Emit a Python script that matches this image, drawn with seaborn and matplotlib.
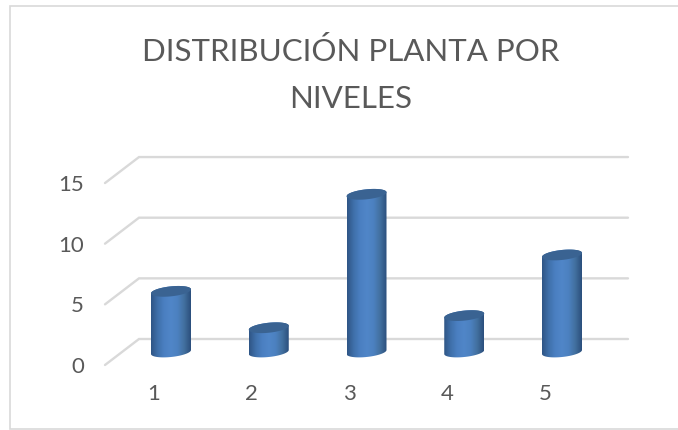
import numpy as np
import pandas as pd
import matplotlib
matplotlib.use("Agg")
import matplotlib.pyplot as plt
from matplotlib.patches import Polygon, Rectangle
from matplotlib.colors import LinearSegmentedColormap
import seaborn as sns

categories = ["1", "2", "3", "4", "5"]
values = [5, 2, 13, 3, 8]
y_ticks = [0, 5, 10, 15]
title = "DISTRIBUCIÓN PLANTA POR\nNIVELES"

W, H = 678, 430
PX_X = 97.75      # pixels per category
PX_Y = 12.13      # pixels per value unit
X0, Y0 = 171, 352 # pixel position of category 0 / value 0 (bar axis)
DEPTH_Y = 13      # back wall offset from bar axis, pixels
FRONT_Y = -13     # front floor offset

sns.set_theme(style="white")
plt.rcParams["font.family"] = ["Lato", "DejaVu Sans"]

fig = plt.figure(figsize=(W / 100, H / 100), dpi=100)
ax = fig.add_axes([0, 0, 1, 1])

df = pd.DataFrame({"nivel": categories, "valor": values})
sns.barplot(data=df, x="nivel", y="valor", ax=ax, width=40 / PX_X,
            color="#4a7ebb", saturation=1, zorder=3)
bars = [p for p in ax.patches if isinstance(p, Rectangle)]

ax.axis("off")

def dx(px):
    return px / PX_X
def dy(px):
    return px / PX_Y
fx = lambda p: (p - X0) / PX_X
fy = lambda p: (Y0 - p) / PX_Y

# chart frame: open on the right, as in the reference
frame_c = "#d9d9d9"
ax.plot([fx(W), fx(10), fx(10), fx(W)], [fy(6), fy(6), fy(429), fy(429)],
        color=frame_c, lw=1.2, solid_joinstyle="miter", zorder=1)

# walls
for t in y_ticks:
    yb = t + dy(DEPTH_Y)
    yf = t + dy(FRONT_Y)
    ax.plot([fx(105), fx(139), fx(628)], [yf, yb, yb], color="#d9d9d9", lw=1.7,
            solid_joinstyle="miter", zorder=2)
    ax.text(fx(84), t + dy(FRONT_Y - 2), str(t), ha="right", va="center",
            fontsize=16, color="#595959")

for i, c in enumerate(categories):
    ax.text(i - dx(17), fy(394), c, ha="center", va="center",
            fontsize=16, color="#595959")

# cylinders: body gradient clipped to the outline of each seaborn bar
cmap = LinearSegmentedColormap.from_list(
    "cyl", ["#2f5585", "#3f70aa", "#4b80c2", "#5086c8", "#4c81c0", "#42709f", "#2b4f7c"])
grad = np.linspace(0, 1, 128).reshape(1, -1)
A = 20.0; B = 5.0; TILT = 0.1

def ell(cx, cy, t):
    ex = A * np.cos(t)
    ey = B * np.sin(t) + TILT * ex
    return cx + dx(ex), cy + dy(ey)

for patch in bars:
    x, w, h = patch.get_x(), patch.get_width(), patch.get_height()
    cx = x + w / 2
    patch.set_visible(False)
    tb = np.linspace(np.pi, 2 * np.pi, 40)
    tt = np.linspace(0, np.pi, 40)
    bx, by = ell(cx, 0, tb)
    ux, uy = ell(cx, h, tt)
    outline = np.column_stack([np.r_[bx, ux], np.r_[by, uy]])
    poly = Polygon(outline, closed=True, transform=ax.transData, fc="none", ec="none")
    ax.add_patch(poly)
    im = ax.imshow(grad, extent=[x, x + w, -2, h + 2], aspect="auto", cmap=cmap,
                   zorder=3, interpolation="bilinear")
    im.set_clip_path(poly)
    t = np.linspace(0, 2 * np.pi, 80)
    cxs, cys = ell(cx, h, t)
    ax.add_patch(Polygon(np.column_stack([cxs, cys]), closed=True, fc="#3a6392",
                         ec="none", zorder=4))

ax.set_xlim(-X0 / PX_X, (W - X0) / PX_X)
ax.set_ylim((Y0 - H) / PX_Y, Y0 / PX_Y)

fig.text(351 / W, 1 - 75 / H, title, ha="center", va="center", fontsize=22.5,
         color="#595959", linespacing=1.85)

fig.savefig("out.png", dpi=100)
